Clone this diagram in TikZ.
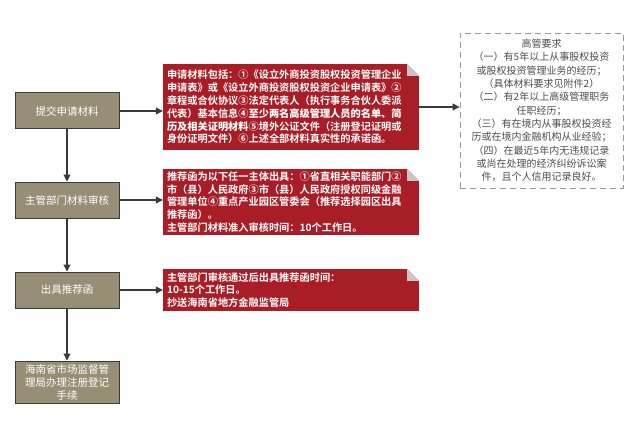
\documentclass[tikz,border=0pt]{standalone}
\usepackage{fontspec}
\setmainfont{Noto Sans CJK SC}[BoldFont={Noto Sans CJK SC Bold}, AutoFakeSlant=0.2]
\usetikzlibrary{arrows.meta}
\definecolor{passo}{HTML}{978F75}
\definecolor{rosso}{HTML}{A91D27}
\definecolor{bordo}{HTML}{3A3A3A}
\tikzset{
  passo/.style  = {rectangle, draw=bordo, line width=1pt, fill=passo, text=white, minimum width=104pt, minimum height=36pt, font=\fontsize{10.5}{13}\selectfont, align=center, inner sep=2pt},
  nota/.style   = {rectangle, fill=rosso, text=white, minimum width=256pt, text width=248pt, align=left, inner xsep=4pt, inner ysep=0pt, font=\bfseries\fontsize{10.2}{12.8}\selectfont},
  requisiti/.style = {rectangle, draw=black!40, dashed, dash pattern=on 6pt off 4pt, line width=0.9pt, minimum width=163pt, minimum height=155pt, text=black!70, align=center, font=\fontsize{10}{13.3}\selectfont},
  piega/.style  = {fill=black!22},
  freccia/.style = {draw=bordo, line width=1.1pt, -{Triangle[length=7pt, width=7pt]}}
}
\begin{document}
\begin{tikzpicture}[x=1pt, y=-1pt]
  \useasboundingbox (0,0) rectangle (637,425);

  % passi a sinistra
  \node[passo] (s1) at (67,111) {提交申请材料};
  \node[passo] (s2) at (67,200) {主管部门材料审核};
  \node[passo] (s3) at (67,290) {出具推荐函};
  \node[passo, minimum height=42pt] (s4) at (67,382) {海南省市场监督管\\理局办理注册登记\\手续};

  % note rosse
  \node[nota, minimum height=86pt] (n1) at (291,107) {申请材料包括：①《设立外商投资股权投资管理企业\\申请表》或《设立外商投资股权投资企业申请表》②\\章程或合伙协议③法定代表人（执行事务合伙人委派\\代表）基本信息④\textit{至少两名高级管理人员的名单、简}\\\textit{历及相关证明材料}⑤境外公证文件（注册登记证明或\\身份证明文件）⑥上述全部材料真实性的承诺函。};
  \node[nota, minimum height=66pt] (n2) at (291,202) {推荐函为以下任一主体出具：①省直相关职能部门②\\市（县）人民政府③市（县）人民政府授权同级金融\\管理单位④重点产业园区管委会（推荐选择园区出具\\推荐函）。\\主管部门材料准入审核时间：10个工作日。};
  \node[nota, minimum height=42pt] (n3) at (291,290) {主管部门审核通过后出具推荐函时间：\\10-15个工作日。\\抄送海南省地方金融监管局};

  % angoli piegati
  \fill[white] (n1.north east) -- ++(-12pt,0pt) -- ++(12pt,-12pt) -- cycle;
  \fill[piega] (n1.north east) ++(-12pt,0pt) -- ++(12pt,-12pt) -- ++(-12pt,0pt) -- cycle;
  \fill[white] (n2.north east) -- ++(-12pt,0pt) -- ++(12pt,-12pt) -- cycle;
  \fill[piega] (n2.north east) ++(-12pt,0pt) -- ++(12pt,-12pt) -- ++(-12pt,0pt) -- cycle;
  \fill[white] (n3.north east) -- ++(-12pt,0pt) -- ++(12pt,-12pt) -- cycle;
  \fill[piega] (n3.north east) ++(-12pt,0pt) -- ++(12pt,-12pt) -- ++(-12pt,0pt) -- cycle;

  % requisiti alti dirigenti
  \node[requisiti] (req) at (541.5,110.5) {高管要求\\（一）有5年以上从事股权投资\\或股权投资管理业务的经历；\\（具体材料要求见附件2）\\（二）有2年以上高级管理职务\\任职经历；\\（三）有在境内从事股权投资经\\历或在境内金融机构从业经验；\\（四）在最近5年内无违规记录\\或尚在处理的经济纠纷诉讼案\\件，且个人信用记录良好。};

  % frecce
  \draw[freccia] (s1) -- (s2);
  \draw[freccia] (s2) -- (s3);
  \draw[freccia] (s3) -- (s4);
  \draw[freccia] (s1.east) -- (s1.east -| n1.west);
  \draw[freccia] (s2.east) -- (s2.east -| n2.west);
  \draw[freccia] (s3.east) -- (s3.east -| n3.west);
  \draw[freccia] (n1.east) -- (n1.east -| req.west);

\end{tikzpicture}
\end{document}
